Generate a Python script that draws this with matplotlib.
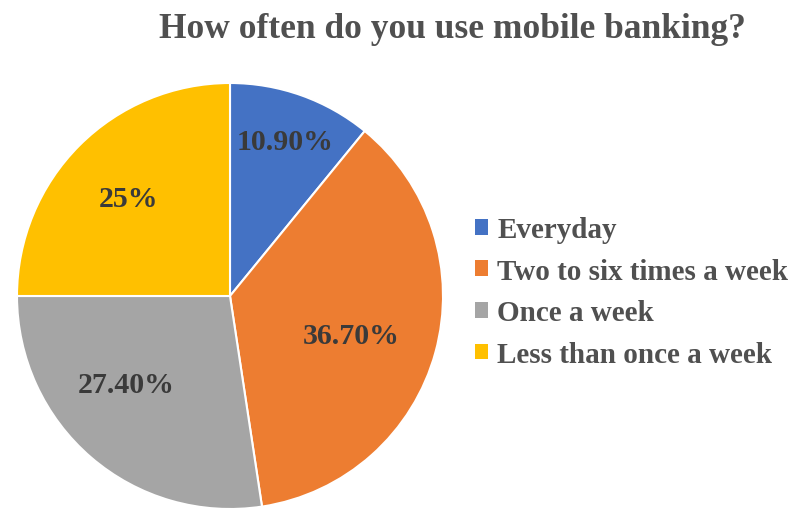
import matplotlib
matplotlib.use("Agg")
import matplotlib.pyplot as plt
from matplotlib.patches import Patch
import numpy as np

categories = ["Everyday", "Two to six times a week", "Once a week", "Less than once a week"]
values = [10.9, 36.7, 27.4, 25.0]
labels = ["10.90%", "36.70%", "27.40%", "25%"]
colors = ["#4472C4", "#ED7D31", "#A5A5A5", "#FFC000"]

W, H = 799, 510
fig = plt.figure(figsize=(W / 100, H / 100), dpi=100)
fig.patch.set_facecolor("white")

label_color = "#3A3A3A"
text_color = "#505050"
serif = ["Liberation Serif", "DejaVu Serif"]

# pie placed by pixel: centre (230, 297), radius 213
cx, cy, r = 230, 297, 213
ax = fig.add_axes([(cx - r) / W, (H - cy - r) / H, 2 * r / W, 2 * r / H])
wedges, _ = ax.pie(values, colors=colors, startangle=90, counterclock=False,
                   radius=1.0, wedgeprops=dict(edgecolor="white", linewidth=1.5))
ax.set_xlim(-1, 1)
ax.set_ylim(-1, 1)
ax.set_aspect("auto")
ax.axis("off")

# data labels: distance from centre (fraction of radius) and angular nudge
label_r = [0.77, 0.60, 0.64, 0.66]
label_nudge = [0.0, -2.5, -9.0, 1.0]
start = 90.0
for v, lab, lr, nd in zip(values, labels, label_r, label_nudge):
    mid = start - v / 100 * 360 / 2 + nd
    start -= v / 100 * 360
    x = lr * np.cos(np.radians(mid))
    y = lr * np.sin(np.radians(mid))
    ax.text(x, y, lab, ha="center", va="center", fontsize=21.5, fontweight="bold",
            family=serif, color=label_color)

fig.text(452 / W, 1 - 29 / H, "How often do you use mobile banking?", ha="center", va="center",
         fontsize=25.5, fontweight="bold", family=serif, color=text_color)

handles = [Patch(facecolor=c, edgecolor="none") for c in colors]
leg = fig.legend(handles, categories, loc="center left",
                 bbox_to_anchor=(449 / W, 1 - 293 / H), frameon=False,
                 prop=dict(family=serif, weight="bold", size=21),
                 handlelength=0.45, handleheight=0.45, handletextpad=0.3,
                 labelspacing=0.5, labelcolor=text_color)

fig.savefig("out.png", dpi=100, facecolor="white")
